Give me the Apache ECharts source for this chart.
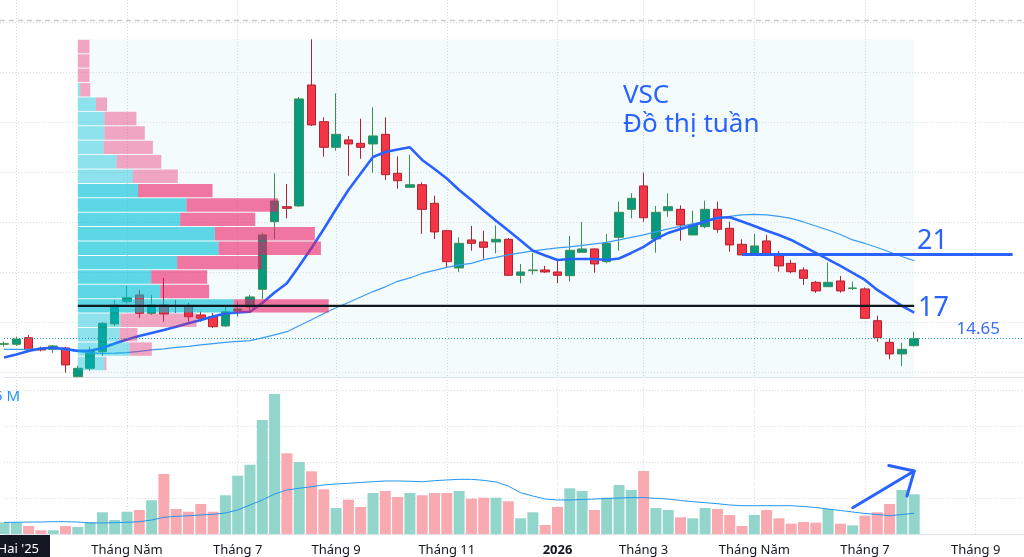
<!DOCTYPE html>
<html><head><meta charset="utf-8">
<script src="https://cdn.jsdelivr.net/npm/echarts@6/dist/echarts.min.js"></script>
<style>html,body{margin:0;padding:0;background:#fff;overflow:hidden}#c{width:1024px;height:557px}</style>
</head><body><div id="c"></div><script>
// ---------- DATA (weekly VSC) ----------
const opens = [14.19,14.19,14.72,13.87,13.79,13.90,11.60,12.27,13.60,15.82,
  17.60,18.14,16.67,17.34,17.30,17.20,16.54,16.40,15.66,16.86,
  17.18,18.59,24.00,25.20,25.26,34.94,32.00,29.95,30.54,30.27,
  30.22,30.99,27.87,26.75,26.96,25.47,23.28,20.30,22.54,22.38,
  22.38,22.59,19.71,20.08,20.14,19.98,19.68,21.55,21.82,20.80,
  22.75,24.99,26.86,22.62,24.88,24.99,22.94,23.60,24.99,23.47,
  22.19,21.42,22.46,21.28,20.67,20.14,19.15,18.80,19.26,18.66,
  18.62,16.08,14.35,13.42,14.08];
const closes = [14.24,14.62,13.74,13.74,14.06,12.54,12.27,13.66,15.87,17.34,
  17.92,16.67,17.34,16.62,17.22,16.40,16.27,15.60,16.80,17.02,
  17.98,22.94,25.66,25.07,33.82,31.74,29.95,30.99,30.22,29.95,
  30.86,27.76,27.28,26.96,24.99,23.18,20.80,22.27,22.27,21.95,
  22.59,19.71,19.98,20.14,19.98,19.71,21.71,21.82,20.62,22.27,
  24.75,25.87,24.32,24.75,25.20,23.74,23.74,24.99,23.39,22.14,
  21.34,22.06,21.47,20.46,20.00,19.47,18.46,19.15,18.46,18.70,
  16.27,14.72,13.42,13.79,14.65];
const highs = [14.40,14.80,14.94,14.00,14.14,13.98,12.46,14.00,15.98,17.74,
  18.86,18.54,18.14,19.50,17.74,17.50,16.80,16.70,17.34,17.60,
  18.14,23.10,27.87,27.02,33.98,38.59,32.35,34.27,30.86,32.24,
  33.15,32.35,29.23,29.36,27.15,26.08,23.34,22.75,23.66,23.28,
  23.71,22.70,20.62,21.52,20.46,20.99,22.86,23.98,21.87,23.02,
  25.60,26.27,27.92,25.26,26.27,25.30,24.88,25.68,25.60,24.00,
  22.59,23.02,22.94,21.66,20.94,20.35,19.26,20.72,19.66,19.20,
  18.75,16.48,14.67,14.32,15.20];
const lows = [14.00,14.06,13.66,13.63,13.50,11.92,11.58,12.08,13.26,15.66,
  17.47,16.30,16.54,16.00,16.70,16.00,16.00,15.50,15.58,16.40,
  16.80,17.79,22.59,24.27,25.18,31.66,29.20,29.68,27.68,29.04,
  27.92,27.34,26.64,26.75,23.02,22.62,20.35,19.98,21.68,21.04,
  21.47,19.66,19.07,19.76,19.90,19.07,19.20,21.55,19.92,20.67,
  21.68,24.27,24.00,21.52,24.40,22.48,22.94,23.47,23.12,21.60,
  21.34,21.34,21.34,20.00,19.87,18.94,18.30,18.80,18.32,18.54,
  16.27,14.40,12.99,12.46,14.00];
const volumes = [1.63,1.63,1.12,0.52,0.52,1.12,0.98,1.67,3.03,1.95,
  3.11,3.35,4.70,8.37,3.49,3.11,4.19,3.11,5.40,8.14,
  9.67,15.91,19.54,11.26,10.05,8.75,6.24,3.63,4.79,3.77,
  5.72,6.00,5.16,5.72,5.40,5.72,5.72,6.00,4.93,5.07,
  5.07,4.56,2.19,3.03,1.26,3.77,6.38,6.00,3.35,5.07,
  6.84,6.14,8.79,3.63,3.35,2.33,2.19,3.63,3.49,2.65,
  1.12,2.65,3.35,2.19,1.44,1.67,1.58,3.49,1.44,1.21,
  2.55,3.03,4.19,6.14,5.54];
const maFast = [13.14,13.38,13.66,13.86,13.91,13.82,13.68,13.68,13.90,14.26,
  14.58,14.86,15.10,15.34,15.59,15.87,16.14,16.42,16.66,16.74,
  16.80,17.50,18.34,19.07,20.46,21.90,23.42,25.02,26.54,27.86,
  29.18,29.58,29.78,29.95,28.94,28.22,27.46,26.54,25.74,24.90,
  24.07,23.29,22.50,21.68,21.30,20.94,21.02,21.02,21.02,20.94,
  21.06,21.50,21.98,22.62,23.10,23.42,23.70,24.02,24.32,24.35,
  24.02,23.66,23.28,22.94,22.54,22.02,21.50,20.98,20.46,19.90,
  19.34,18.54,17.90,17.26,16.72];
const maSlow = [13.79,13.79,13.78,13.86,13.86,13.74,13.60,13.51,13.47,13.48,
  13.52,13.62,13.74,13.83,13.94,14.03,14.14,14.24,14.34,14.42,
  14.48,14.70,14.94,15.20,15.68,16.16,16.66,17.12,17.54,17.98,
  18.41,18.79,19.23,19.50,19.86,20.10,20.34,20.54,20.67,20.96,
  21.14,21.34,21.50,21.66,21.79,21.91,21.98,22.10,22.22,22.34,
  22.54,22.74,22.94,23.18,23.42,23.62,23.82,24.02,24.22,24.42,
  24.54,24.59,24.54,24.42,24.26,23.98,23.66,23.34,22.98,22.54,
  22.26,21.94,21.58,21.22,20.88];
const volMA = [1.63,1.63,1.67,1.67,1.72,1.72,1.67,1.54,1.54,1.58,
  1.63,1.72,1.95,2.33,2.47,2.55,2.65,2.75,2.93,3.35,
  4.05,4.75,5.58,6.14,6.38,6.60,6.84,6.98,7.08,7.19,
  7.30,7.40,7.40,7.36,7.30,7.44,7.54,7.63,7.63,7.49,
  7.26,6.70,5.76,5.30,4.88,4.75,4.75,4.82,4.88,4.95,
  5.02,5.07,5.07,4.98,4.88,4.68,4.51,4.37,4.23,4.05,
  3.95,3.95,3.95,3.95,3.95,3.84,3.70,3.49,3.28,3.07,
  2.86,2.72,2.55,2.72,2.89];
// fixed-range volume profile rows, top row first (up / down volume)
const profileUp   = [0,0,0,2.3,18,26.3,26.3,25.6,38.3,54.6,59.6,107.6,101.3,135.6,139.3,98.3,72.6,81.6,154.3,42.3,41.3,51.3,26.3];
const profileDown = [11.6,11.6,11.6,10,11,31.7,40,48.7,44.3,44.4,73.7,90.4,74.3,99,101.3,84,55.4,48.4,94,75.3,17.7,22,2];
const valueAreaRows = [10, 18];
const PROFILE_FROM = 6, PROFILE_TO = 74;
const PROFILE_HIGH = 38.59, PROFILE_LOW = 12.08;
// tick labels
const tickIndex = [10,19,27,36,45,52,61,70,79];
const tickText  = ['Tháng Năm','Tháng 7','Tháng 9','Tháng 11','2026','Tháng 3','Tháng Năm','Tháng 7','Tháng 9'];
const gridIndexX = [1].concat(tickIndex);
const priceTicks = [12,16,20,24,28,32,36,40];
// drawn levels / annotation
const LEVEL_21 = 21.39, LEVEL_21_FROM = 60, LEVEL_21_TO = 82;
const arrowPts = [[69, 3.67, 74, 8.79]];
const N_SLOTS = 85;

// ---------- CHART ----------
const cats = Array.from({length: N_SLOTS}, (_, i) => String(i));
const SLOT = 12.3;
const GL = 4, GW = SLOT * (N_SLOTS - 1);
const chart = echarts.init(document.getElementById('c'), null, {renderer: 'canvas'});
const UP = '#089981', DN = '#f23645';
const maxTotal = Math.max(...profileUp.map((u, k) => u + profileDown[k]));
const pocIndex = profileUp.map((u, k) => u + profileDown[k]).indexOf(maxTotal);
const rangeHigh = Math.max(...highs.slice(PROFILE_FROM, PROFILE_TO + 1));
const rangeLow = Math.min(...lows.slice(PROFILE_FROM, PROFILE_TO + 1));

function splitIv(idx) { return gridIndexX.indexOf(idx) >= 0; }

const option = {
  animation: false,
  backgroundColor: '#ffffff',
  grid: [
    {left: GL, top: 0, width: GW, height: 377, containLabel: false, outerBoundsMode: 'none'},
    {left: GL, top: 377, width: GW, height: 157, containLabel: false, outerBoundsMode: 'none'}
  ],
  xAxis: [
    {type: 'category', gridIndex: 0, data: cats, boundaryGap: false,
     axisLine: {show: true, lineStyle: {color: '#e0e3eb'}}, axisTick: {show: false}, axisLabel: {show: false},
     splitLine: {show: true, interval: splitIv, lineStyle: {color: '#d9dce3', type: [1, 2]}}},
    {type: 'category', gridIndex: 1, data: cats, boundaryGap: false,
     axisLine: {show: true, lineStyle: {color: '#e0e3eb'}}, axisTick: {show: false},
     splitLine: {show: true, interval: splitIv, lineStyle: {color: '#d9dce3', type: [1, 2]}},
     axisLabel: {show: true, margin: 10, color: '#131722', fontSize: 13, fontFamily: 'Noto Sans',
       interval: (idx) => tickIndex.indexOf(idx) >= 0,
       formatter: (v, idx) => { const k = tickIndex.indexOf(idx); if (k < 0) return ''; const t = tickText[k]; return /^\d{4}$/.test(t) ? '{b|' + t + '}' : t; },
       rich: {b: {fontWeight: 'bold', fontSize: 13, fontFamily: 'Noto Sans', color: '#131722'}}}}
  ],
  yAxis: [
    {type: 'value', gridIndex: 0, min: 11.576, max: 41.736, show: false, splitLine: {show: false}},
    {type: 'value', gridIndex: 1, min: 0, max: 21.91, interval: 5,
     axisLabel: {show: false}, axisLine: {show: false}, axisTick: {show: false},
     splitLine: {show: true, lineStyle: {color: '#d9dce3', type: [1, 2]}}}
  ],
  series: [
    { // profile range background
      type: 'custom', xAxisIndex: 0, yAxisIndex: 0, z: 1, silent: true,
      data: [[PROFILE_FROM, rangeHigh, PROFILE_TO, rangeLow]],
      renderItem: (params, api) => {
        const a = api.coord([api.value(0), api.value(1)]);
        const b = api.coord([api.value(2), api.value(3)]);
        return {type: 'rect', shape: {x: a[0], y: a[1], width: b[0] - a[0], height: b[1] - a[1]},
                style: {fill: 'rgba(0,170,215,0.045)'}};
      }
    },
    { // horizontal price grid
      type: 'custom', xAxisIndex: 0, yAxisIndex: 0, z: 1, silent: true,
      data: priceTicks.map(v => [0, v, 0]).concat([[0, 40.136, 1]]),
      renderItem: (params, api) => {
        const y = Math.round(api.coord([0, api.value(1)])[1]) + 0.5;
        const dashed = api.value(2) === 1;
        return {type: 'line', shape: {x1: 0, y1: y, x2: 1024, y2: y},
                style: {stroke: dashed ? '#c9cbd1' : '#d9dce3', lineWidth: dashed ? 1.5 : 1, lineDash: dashed ? [5, 4] : [1, 2]}};
      }
    },
    {
      name: 'VSC', type: 'candlestick', xAxisIndex: 0, yAxisIndex: 0, z: 3, clip: false, barWidth: 9,
      data: opens.map((o, i) => [o, closes[i], lows[i], highs[i]]),
      itemStyle: {color: UP, color0: DN, borderColor: '#3f8f55', borderColor0: '#b3222f', borderWidth: 1},
      markLine: {
        silent: true, symbol: ['none', 'none'], z: 6, label: {show: false},
        data: [
          {yAxis: closes[closes.length - 1], lineStyle: {color: '#26a69a', type: [1, 2], width: 1}},
          [{coord: [LEVEL_21_FROM, LEVEL_21], lineStyle: {color: '#2962ff', width: 3, type: 'solid'}}, {coord: [LEVEL_21_TO, LEVEL_21]}]
        ]
      }
    },
    {name: 'MA slow', type: 'line', xAxisIndex: 0, yAxisIndex: 0, z: 4, data: maSlow, symbol: 'none', silent: true,
     lineStyle: {color: '#3c9cf3', width: 1.2}},
    {name: 'MA fast', type: 'line', xAxisIndex: 0, yAxisIndex: 0, z: 4, data: maFast, symbol: 'none', silent: true,
     lineStyle: {color: '#2962ff', width: 2.6}},
    { // volume profile
      type: 'custom', xAxisIndex: 0, yAxisIndex: 0, z: 5, silent: true,
      data: profileUp.map((u, k) => [PROFILE_FROM, PROFILE_HIGH - k * (PROFILE_HIGH - PROFILE_LOW) / profileUp.length]),
      renderItem: (params, api) => {
        const k = params.dataIndex;
        const h = (PROFILE_HIGH - PROFILE_LOW) / profileUp.length;
        const top = PROFILE_HIGH - k * h, bot = top - h;
        const pT = api.coord([PROFILE_FROM, top]);
        const pB = api.coord([PROFILE_FROM, bot]);
        const xEnd = api.coord([PROFILE_TO, top])[0];
        const unit = 0.3 * (xEnd - pT[0]) / maxTotal;
        const inVA = k >= valueAreaRows[0] && k <= valueAreaRows[1];
        const y0 = pT[1] + 0.5, hh = pB[1] - pT[1] - 1;
        const wu = profileUp[k] * unit, wd = profileDown[k] * unit;
        const ch = [
          {type: 'rect', shape: {x: pT[0], y: y0, width: wu, height: hh},
           style: {fill: inVA ? 'rgba(0,190,214,0.62)' : 'rgba(0,190,214,0.42)'}},
          {type: 'rect', shape: {x: pT[0] + wu, y: y0, width: wd, height: hh},
           style: {fill: inVA ? 'rgba(233,30,99,0.6)' : 'rgba(233,30,99,0.38)'}}
        ];
        if (k === pocIndex) {
          const ym = (pT[1] + pB[1]) / 2;
          ch.push({type: 'line', z2: 10, shape: {x1: pT[0], y1: ym, x2: xEnd, y2: ym}, style: {stroke: '#131722', lineWidth: 2.2}});
        }
        return {type: 'group', children: ch};
      }
    },
    {
      name: 'Volume', type: 'bar', xAxisIndex: 1, yAxisIndex: 1, z: 3, barWidth: 11, silent: true,
      data: volumes.map((v, i) => ({value: v, itemStyle: {color: closes[i] >= opens[i] ? '#92d5ca' : '#f9a9b0'}}))
    },
    {name: 'Vol MA', type: 'line', xAxisIndex: 1, yAxisIndex: 1, z: 4, data: volMA, symbol: 'none', silent: true,
     lineStyle: {color: '#2196f3', width: 1}},
    { // arrow annotation
      type: 'custom', xAxisIndex: 1, yAxisIndex: 1, z: 6, silent: true, data: arrowPts,
      renderItem: (params, api) => {
        const a = api.coord([api.value(0), api.value(1)]);
        const b = api.coord([api.value(2), api.value(3)]);
        const ang = Math.atan2(a[1] - b[1], a[0] - b[0]);
        const L = 26, d = 43 * Math.PI / 180;
        const h1 = [b[0] + L * Math.cos(ang - d), b[1] + L * Math.sin(ang - d)];
        const h2 = [b[0] + L * Math.cos(ang + d), b[1] + L * Math.sin(ang + d)];
        const st = {stroke: '#2962ff', lineWidth: 3, fill: null, lineCap: 'round', lineJoin: 'round'};
        return {type: 'group', children: [
          {type: 'polyline', shape: {points: [a, b]}, style: st},
          {type: 'polyline', shape: {points: [h1, b, h2]}, style: st}
        ]};
      }
    }
  ],
  graphic: [
    {type: 'text', x: 623, y: 96, z: 20, silent: true, style: {text: 'VSC', font: '26px "Noto Sans"', fill: '#2962ff', verticalAlign: 'middle'}},
    {type: 'text', x: 623, y: 125, z: 20, silent: true, style: {text: 'Đồ thị tuần', font: '26px "Noto Sans"', fill: '#2962ff', verticalAlign: 'middle'}},
    {type: 'text', x: 917, y: 241, z: 20, silent: true, style: {text: '21', font: '27px "Noto Sans"', fill: '#2962ff', verticalAlign: 'middle'}},
    {type: 'text', x: 918, y: 308, z: 20, silent: true, style: {text: '17', font: '27px "Noto Sans"', fill: '#2962ff', verticalAlign: 'middle'}},
    {type: 'text', x: 1000, y: 329, z: 20, silent: true, style: {text: closes[closes.length - 1].toFixed(2), font: '17px "Noto Sans"', fill: '#3b6cf5', align: 'right', verticalAlign: 'middle'}},
    {type: 'text', x: -6, y: 397, z: 20, silent: true, style: {text: '5 M', font: '15px "Noto Sans"', fill: '#2196f3', verticalAlign: 'middle'}},
    {type: 'text', x: 50, y: 535, z: 20, silent: true, style: {text: "Tháng Hai '25", font: '13px "Noto Sans"', fill: '#ffffff', align: 'right', verticalAlign: 'top', backgroundColor: '#131722', padding: [8, 11, 9, 11]}}
  ]
};
chart.setOption(option);
</script></body></html>
